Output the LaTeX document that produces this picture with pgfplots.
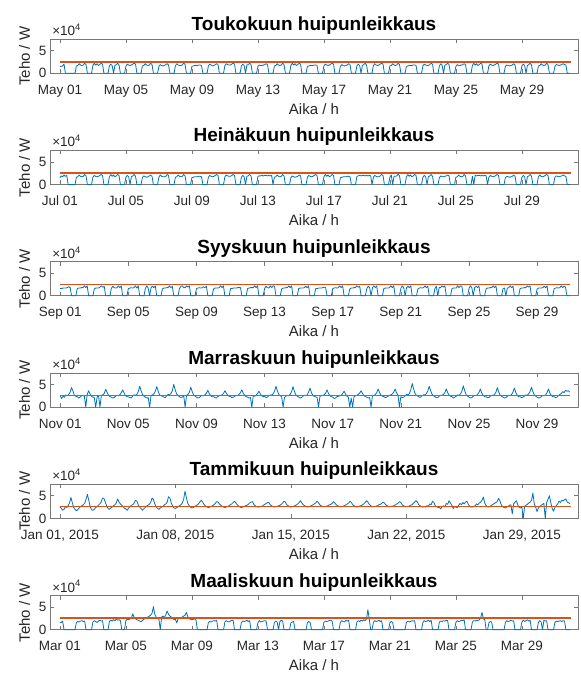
\documentclass[border=0pt]{standalone}
\usepackage{pgfplots}
\pgfplotsset{compat=1.18}
\usepackage{fontspec}
\setmainfont{Liberation Sans}
\definecolor{mblue}{RGB}{0,114,189}
\definecolor{morange}{RGB}{217,83,25}
\definecolor{axgray}{RGB}{120,120,120}
\definecolor{txt}{RGB}{38,38,38}
\pgfplotsset{
  msub/.style={
    scale only axis, width=528pt, height=34pt,
    ymin=0, ymax=7.5, ytick={0,5}, xmin=-0.6,
    clip=false,
    axis line style={axgray, line width=0.6pt},
    every tick/.style={axgray, line width=0.6pt},
    major tick length=4pt,
    tick label style={font=\fontsize{13.5}{16}\selectfont, text=txt},
    /pgf/number format/assume math mode=true,
    xticklabel style={anchor=base, yshift=-21pt},
    every axis title/.style={at={(axis description cs:0.5,1.25)}, anchor=base, font=\bfseries\fontsize{19}{22}\selectfont, text=black},
    every axis x label/.style={at={(axis description cs:0.5,-1.206)}, anchor=base, font=\fontsize{15}{18}\selectfont, text=txt},
    every axis y label/.style={at={(axis description cs:-0.0379,0.5)}, rotate=90, anchor=base, font=\fontsize{15}{18}\selectfont, text=txt},
    xlabel={Aika / h}, ylabel={Teho / W},
  },
  dat/.style={color=mblue, line width=0.8pt, line join=round},
  limline/.style={color=morange, line width=1.5pt},
}
\newcommand{\expo}{\node[anchor=base west, font=\fontsize{13.5}{16}\selectfont, text=txt, inner sep=0pt] at (axis description cs:0.004,1.103) {×10\textsuperscript{4}};}
\begin{document}
\begin{tikzpicture}
\useasboundingbox (0,0) rectangle (581pt,673pt);
% ---------------- May
\begin{axis}[msub, at={(50pt,599.8pt)}, anchor=south west, xmax=31.4,
  title={Toukokuun huipunleikkaus},
  xtick={0,4,8,12,16,20,24,28},
  xticklabels={May 01,May 05,May 09,May 13,May 17,May 21,May 25,May 29}]
\addplot[dat] table[row sep=\\, header=false, x expr=\coordindex/12, y index=0] {
1.5\\ 1.5\\ 1.6\\ 2.0\\ 0\\ 0\\ 0\\ 0\\ 0\\ 0\\ 0\\ 0\\
1.6\\ 1.7\\ 2.1\\ 1.8\\ 1.7\\ 1.8\\ 2.2\\ 1.9\\ 0\\ 0\\ 0\\ 0\\
1.7\\ 2.2\\ 1.8\\ 2.1\\ 1.7\\ 1.9\\ 2.2\\ 2.0\\ 0\\ 0\\ 0\\ 0\\
1.6\\ 2.0\\ 1.7\\ 0\\ 1.7\\ 1.9\\ 2.2\\ 1.8\\ 0\\ 0\\ 0\\ 0\\
1.5\\ 2.0\\ 1.8\\ 1.7\\ 1.8\\ 2.0\\ 2.2\\ 2.0\\ 0\\ 0\\ 0\\ 0\\
1.6\\ 1.7\\ 2.1\\ 1.8\\ 1.7\\ 1.8\\ 2.2\\ 1.9\\ 0\\ 0\\ 0\\ 0\\
1.5\\ 1.9\\ 1.7\\ 1.6\\ 1.7\\ 1.9\\ 2.1\\ 1.8\\ 0\\ 0\\ 0\\ 0\\
1.6\\ 2.1\\ 1.8\\ 1.7\\ 1.7\\ 1.8\\ 2.2\\ 2.0\\ 0\\ 0\\ 0\\ 0\\
1.5\\ 1.6\\ 1.7\\ 1.7\\ 1.7\\ 1.8\\ 1.8\\ 1.7\\ 0\\ 0\\ 0\\ 0\\
1.6\\ 2.0\\ 1.8\\ 1.6\\ 1.7\\ 1.9\\ 2.1\\ 1.9\\ 0\\ 0\\ 0\\ 0\\
1.7\\ 2.1\\ 1.9\\ 1.8\\ 1.8\\ 2.0\\ 2.2\\ 2.0\\ 0\\ 0\\ 0\\ 0\\
1.6\\ 2.0\\ 1.7\\ 0\\ 1.8\\ 1.9\\ 2.2\\ 1.9\\ 0\\ 0\\ 0\\ 0\\
1.5\\ 1.8\\ 1.7\\ 1.7\\ 1.8\\ 1.9\\ 2.1\\ 1.9\\ 0\\ 0\\ 0\\ 0\\
1.6\\ 1.7\\ 2.1\\ 1.8\\ 1.7\\ 1.8\\ 2.2\\ 1.9\\ 0\\ 0\\ 0\\ 0\\
1.7\\ 2.2\\ 1.8\\ 2.1\\ 1.7\\ 1.9\\ 2.2\\ 2.0\\ 0\\ 0\\ 0\\ 0\\
1.5\\ 1.6\\ 1.7\\ 1.7\\ 1.7\\ 1.8\\ 1.8\\ 1.7\\ 0\\ 0\\ 0\\ 0\\
1.6\\ 2.0\\ 1.8\\ 1.7\\ 1.8\\ 2.0\\ 2.2\\ 2.0\\ 0\\ 0\\ 0\\ 0\\
1.5\\ 1.9\\ 1.7\\ 1.6\\ 1.7\\ 1.8\\ 2.1\\ 1.9\\ 0\\ 0\\ 0\\ 0\\
1.6\\ 2.0\\ 1.7\\ 0\\ 1.7\\ 1.9\\ 2.2\\ 1.8\\ 0\\ 0\\ 0\\ 0\\
1.7\\ 2.1\\ 1.8\\ 1.7\\ 1.8\\ 2.0\\ 2.2\\ 2.0\\ 0\\ 0\\ 0\\ 0\\
1.6\\ 1.7\\ 2.1\\ 1.8\\ 1.7\\ 1.8\\ 2.2\\ 1.9\\ 0\\ 0\\ 0\\ 0\\
1.5\\ 1.6\\ 1.7\\ 1.7\\ 1.7\\ 1.8\\ 1.8\\ 1.7\\ 0\\ 0\\ 0\\ 0\\
1.6\\ 2.0\\ 1.8\\ 1.7\\ 1.7\\ 1.9\\ 2.2\\ 2.0\\ 0\\ 0\\ 0\\ 0\\
1.6\\ 2.1\\ 1.7\\ 0\\ 1.8\\ 1.9\\ 2.2\\ 1.9\\ 0\\ 0\\ 0\\ 0\\
1.5\\ 1.9\\ 1.7\\ 1.7\\ 1.8\\ 1.9\\ 2.1\\ 1.9\\ 0\\ 0\\ 0\\ 0\\
1.7\\ 2.2\\ 1.8\\ 2.1\\ 1.7\\ 1.9\\ 2.2\\ 2.0\\ 0\\ 0\\ 0\\ 0\\
1.6\\ 2.0\\ 1.8\\ 1.7\\ 1.8\\ 2.0\\ 2.2\\ 2.0\\ 0\\ 0\\ 0\\ 0\\
1.5\\ 1.8\\ 1.7\\ 1.6\\ 1.7\\ 1.8\\ 2.1\\ 1.8\\ 0\\ 0\\ 0\\ 0\\
1.6\\ 2.0\\ 1.7\\ 0\\ 1.7\\ 1.9\\ 2.2\\ 1.8\\ 0\\ 0\\ 0\\ 0\\
1.6\\ 1.7\\ 2.1\\ 1.8\\ 1.7\\ 1.8\\ 2.2\\ 1.9\\ 0\\ 0\\ 0\\ 0\\
1.5\\ 1.9\\ 1.8\\ 1.7\\ 1.8\\ 1.9\\ 2.1\\ 1.9\\ 1.8\\ 0\\ 0\\ 0\\
};
\addplot[limline] coordinates {(0,2.5) (30.95,2.5)};
\expo
\end{axis}
% ---------------- July
\begin{axis}[msub, at={(50pt,488.5pt)}, anchor=south west, xmax=31.4,
  title={Heinäkuun huipunleikkaus},
  xtick={0,4,8,12,16,20,24,28},
  xticklabels={Jul 01,Jul 05,Jul 09,Jul 13,Jul 17,Jul 21,Jul 25,Jul 29}]
\addplot[dat] table[row sep=\\, header=false, x expr=\coordindex/12, y index=0] {
1.5\\ 1.9\\ 1.7\\ 2.1\\ 1.8\\ 2.0\\ 0\\ 0\\ 0\\ 0\\ 0\\ 0\\
1.6\\ 1.7\\ 2.1\\ 1.8\\ 1.7\\ 1.8\\ 2.2\\ 1.9\\ 0\\ 0\\ 0\\ 0\\
1.6\\ 2.0\\ 1.8\\ 1.7\\ 1.8\\ 2.0\\ 2.2\\ 2.0\\ 0\\ 0\\ 0\\ 0\\
1.7\\ 2.2\\ 1.8\\ 2.1\\ 1.7\\ 1.9\\ 2.2\\ 2.0\\ 0\\ 0\\ 0\\ 0\\
1.6\\ 2.0\\ 1.7\\ 0\\ 1.7\\ 1.9\\ 2.2\\ 1.8\\ 0\\ 0\\ 0\\ 0\\
1.5\\ 1.9\\ 1.7\\ 1.6\\ 1.7\\ 1.9\\ 2.1\\ 1.8\\ 0\\ 0\\ 0\\ 0\\
1.6\\ 2.1\\ 1.8\\ 1.7\\ 1.7\\ 1.8\\ 2.2\\ 2.0\\ 0\\ 0\\ 0\\ 0\\
1.6\\ 1.7\\ 2.1\\ 1.8\\ 1.7\\ 1.8\\ 2.2\\ 1.9\\ 0\\ 0\\ 0\\ 0\\
1.5\\ 1.6\\ 1.7\\ 1.7\\ 1.7\\ 1.8\\ 1.8\\ 1.7\\ 0\\ 0\\ 0\\ 0\\
1.6\\ 2.0\\ 1.8\\ 1.7\\ 1.8\\ 2.0\\ 2.2\\ 2.0\\ 0\\ 0\\ 0\\ 0\\
1.7\\ 2.1\\ 1.9\\ 1.8\\ 1.8\\ 2.0\\ 2.2\\ 2.0\\ 0\\ 0\\ 0\\ 0\\
1.6\\ 2.0\\ 1.7\\ 0\\ 1.8\\ 1.9\\ 2.2\\ 1.9\\ 0\\ 0\\ 0\\ 0\\
1.8\\ 1.9\\ 1.9\\ 2.0\\ 1.9\\ 2.0\\ 2.0\\ 1.9\\ 2.0\\ 1.9\\ 2.0\\ 0\\
1.6\\ 1.7\\ 2.1\\ 1.8\\ 1.7\\ 1.8\\ 2.2\\ 1.9\\ 0\\ 0\\ 0\\ 0\\
1.5\\ 1.9\\ 1.7\\ 1.6\\ 1.7\\ 1.8\\ 2.1\\ 1.9\\ 0\\ 0\\ 0\\ 0\\
1.6\\ 2.0\\ 1.8\\ 1.7\\ 1.8\\ 2.0\\ 2.2\\ 2.0\\ 0\\ 0\\ 0\\ 0\\
1.7\\ 2.2\\ 1.8\\ 2.1\\ 1.7\\ 1.9\\ 2.2\\ 2.0\\ 0\\ 0\\ 0\\ 0\\
1.5\\ 1.6\\ 1.7\\ 1.7\\ 1.7\\ 1.8\\ 1.8\\ 1.7\\ 0\\ 0\\ 0\\ 0\\
1.8\\ 1.9\\ 2.0\\ 1.9\\ 2.0\\ 2.0\\ 1.9\\ 2.0\\ 1.9\\ 2.0\\ 1.9\\ 0\\
1.6\\ 2.0\\ 1.8\\ 1.7\\ 1.7\\ 1.9\\ 2.2\\ 2.0\\ 0\\ 0\\ 0\\ 0\\
1.6\\ 2.1\\ 0\\ 1.8\\ 1.8\\ 1.9\\ 2.3\\ 1.9\\ 0\\ 0\\ 0\\ 0\\
1.7\\ 2.2\\ 1.8\\ 2.1\\ 1.7\\ 1.9\\ 2.2\\ 2.0\\ 0\\ 0\\ 0\\ 0\\
1.6\\ 2.0\\ 1.7\\ 0\\ 1.7\\ 1.9\\ 2.2\\ 1.8\\ 0\\ 0\\ 0\\ 0\\
1.5\\ 1.9\\ 1.7\\ 1.7\\ 1.8\\ 1.9\\ 2.1\\ 1.9\\ 0\\ 0\\ 0\\ 0\\
1.6\\ 1.7\\ 2.1\\ 1.8\\ 1.7\\ 1.8\\ 2.2\\ 1.9\\ 0\\ 0\\ 0\\ 0\\
1.8\\ 0\\ 2.0\\ 1.9\\ 2.0\\ 2.0\\ 1.9\\ 2.0\\ 1.9\\ 2.0\\ 1.9\\ 0\\
1.6\\ 2.0\\ 1.8\\ 1.7\\ 1.8\\ 2.0\\ 2.2\\ 2.0\\ 0\\ 0\\ 0\\ 0\\
1.5\\ 1.8\\ 1.7\\ 1.6\\ 1.7\\ 1.8\\ 2.1\\ 1.8\\ 0\\ 0\\ 0\\ 0\\
1.6\\ 2.0\\ 1.7\\ 0\\ 1.7\\ 1.9\\ 2.2\\ 1.8\\ 0\\ 0\\ 0\\ 0\\
1.7\\ 2.1\\ 1.8\\ 1.7\\ 1.8\\ 2.0\\ 2.2\\ 2.0\\ 0\\ 0\\ 0\\ 0\\
1.6\\ 1.9\\ 1.8\\ 1.7\\ 1.8\\ 1.9\\ 2.1\\ 1.9\\ 1.8\\ 0\\ 0\\ 0\\
};
\addplot[limline] coordinates {(0,2.5) (30.95,2.5)};
\expo
\end{axis}
% ---------------- September
\begin{axis}[msub, at={(50pt,377.2pt)}, anchor=south west, xmax=30.4,
  title={Syyskuun huipunleikkaus},
  xtick={0,4,8,12,16,20,24,28},
  xticklabels={Sep 01,Sep 05,Sep 09,Sep 13,Sep 17,Sep 21,Sep 25,Sep 29}]
\addplot[dat] table[row sep=\\, header=false, x expr=\coordindex/12, y index=0] {
1.6\\ 1.6\\ 1.7\\ 1.7\\ 1.7\\ 1.8\\ 2.0\\ 1.8\\ 0\\ 0\\ 0\\ 0\\
1.6\\ 1.7\\ 1.7\\ 1.8\\ 1.8\\ 2.2\\ 1.8\\ 2.2\\ 0\\ 0\\ 0\\ 0\\
1.5\\ 1.7\\ 1.7\\ 1.7\\ 1.9\\ 2.2\\ 1.9\\ 2.1\\ 0\\ 0\\ 0\\ 0\\
1.6\\ 2.1\\ 1.8\\ 1.7\\ 1.8\\ 2.2\\ 1.8\\ 2.2\\ 0\\ 0\\ 0\\ 0\\
1.6\\ 1.7\\ 1.8\\ 1.7\\ 1.8\\ 2.2\\ 1.7\\ 2.2\\ 0\\ 0\\ 0\\ 0\\
1.6\\ 2.2\\ 1.7\\ 0\\ 1.8\\ 2.1\\ 1.8\\ 2.2\\ 0\\ 0\\ 0\\ 0\\
1.5\\ 1.7\\ 1.7\\ 1.8\\ 1.8\\ 2.2\\ 1.8\\ 2.1\\ 0\\ 0\\ 0\\ 0\\
1.6\\ 2.1\\ 2.2\\ 1.8\\ 1.8\\ 2.2\\ 1.9\\ 2.2\\ 0\\ 0\\ 0\\ 0\\
1.6\\ 1.7\\ 1.8\\ 1.7\\ 1.8\\ 2.0\\ 1.8\\ 2.1\\ 0\\ 0\\ 0\\ 0\\
1.5\\ 1.7\\ 1.7\\ 1.7\\ 1.8\\ 2.2\\ 1.8\\ 2.2\\ 0\\ 0\\ 0\\ 0\\
1.6\\ 1.6\\ 1.7\\ 1.7\\ 1.7\\ 1.8\\ 1.8\\ 1.8\\ 0\\ 0\\ 0\\ 0\\
1.6\\ 1.7\\ 1.8\\ 1.8\\ 1.8\\ 2.2\\ 1.8\\ 2.2\\ 0\\ 0\\ 0\\ 0\\
1.6\\ 2.1\\ 1.8\\ 1.7\\ 2.2\\ 1.8\\ 2.2\\ 2.1\\ 0\\ 0\\ 0\\ 0\\
1.5\\ 1.7\\ 1.7\\ 1.8\\ 1.8\\ 2.2\\ 1.8\\ 2.2\\ 0\\ 0\\ 0\\ 0\\
1.6\\ 1.7\\ 1.7\\ 1.7\\ 1.8\\ 2.1\\ 1.8\\ 2.2\\ 0\\ 0\\ 0\\ 0\\
1.6\\ 1.6\\ 1.7\\ 1.7\\ 1.7\\ 1.8\\ 1.9\\ 1.8\\ 0\\ 0\\ 0\\ 0\\
1.6\\ 1.7\\ 1.8\\ 1.7\\ 1.8\\ 2.2\\ 1.8\\ 2.2\\ 0\\ 0\\ 0\\ 0\\
1.5\\ 1.7\\ 1.7\\ 1.8\\ 1.8\\ 2.2\\ 1.9\\ 2.1\\ 0\\ 0\\ 0\\ 0\\
1.6\\ 2.1\\ 1.8\\ 0\\ 1.8\\ 2.2\\ 1.8\\ 2.2\\ 0\\ 0\\ 0\\ 0\\
1.6\\ 1.7\\ 1.7\\ 1.7\\ 1.8\\ 2.2\\ 1.8\\ 2.2\\ 0\\ 0\\ 0\\ 0\\
1.6\\ 2.2\\ 1.8\\ 0\\ 1.8\\ 2.1\\ 1.8\\ 2.2\\ 0\\ 0\\ 0\\ 0\\
1.5\\ 1.7\\ 1.8\\ 1.7\\ 1.8\\ 2.2\\ 1.8\\ 2.1\\ 0\\ 0\\ 0\\ 0\\
1.6\\ 2.1\\ 0\\ 1.8\\ 1.8\\ 2.2\\ 1.9\\ 2.2\\ 0\\ 0\\ 0\\ 0\\
1.6\\ 1.7\\ 1.7\\ 1.7\\ 2.2\\ 1.8\\ 2.2\\ 2.1\\ 0\\ 0\\ 0\\ 0\\
1.6\\ 2.2\\ 1.8\\ 0\\ 1.8\\ 2.1\\ 1.8\\ 2.2\\ 0\\ 0\\ 0\\ 0\\
1.5\\ 1.7\\ 1.7\\ 1.8\\ 1.8\\ 2.2\\ 1.8\\ 2.2\\ 0\\ 0\\ 0\\ 0\\
1.6\\ 1.7\\ 0\\ 1.7\\ 1.8\\ 2.2\\ 1.8\\ 2.1\\ 0\\ 0\\ 0\\ 0\\
1.6\\ 1.7\\ 1.7\\ 1.8\\ 1.8\\ 2.2\\ 1.9\\ 2.2\\ 0\\ 0\\ 0\\ 0\\
1.5\\ 1.7\\ 1.7\\ 1.7\\ 1.8\\ 2.1\\ 1.8\\ 2.2\\ 0\\ 0\\ 0\\ 0\\
1.6\\ 1.7\\ 1.8\\ 1.7\\ 1.8\\ 2.2\\ 1.8\\ 2.1\\ 1.9\\ 0\\ 0\\ 0\\
};
\addplot[limline] coordinates {(0,2.5) (29.95,2.5)};
\expo
\end{axis}
% ---------------- November
\begin{axis}[msub, at={(50pt,265.9pt)}, anchor=south west, xmax=30.4,
  title={Marraskuun huipunleikkaus},
  xtick={0,4,8,12,16,20,24,28},
  xticklabels={Nov 01,Nov 05,Nov 09,Nov 13,Nov 17,Nov 21,Nov 25,Nov 29}]
\addplot[dat] table[row sep=\\, header=false, x expr=\coordindex/12, y index=0] {
2.5\\ 1.9\\ 2.4\\ 2.2\\ 2.7\\ 2.5\\ 2.8\\ 3.3\\ 4.3\\ 3.5\\ 2.6\\ 2.4\\
2.3\\ 2.0\\ 2.2\\ 2.5\\ 2.6\\ 2.4\\ 0\\ 2.8\\ 3.6\\ 2.9\\ 2.4\\ 2.2\\
2.1\\ 0\\ 2.2\\ 2.5\\ 0\\ 2.6\\ 2.7\\ 3.0\\ 3.9\\ 3.3\\ 2.6\\ 2.3\\
2.2\\ 2.0\\ 2.1\\ 2.4\\ 2.6\\ 2.5\\ 2.7\\ 3.2\\ 3.8\\ 3.1\\ 2.5\\ 2.3\\
2.3\\ 2.1\\ 2.0\\ 2.4\\ 2.7\\ 2.6\\ 2.8\\ 3.4\\ 4.6\\ 3.6\\ 2.8\\ 2.4\\
2.2\\ 2.0\\ 2.1\\ 0\\ 2.6\\ 2.7\\ 2.9\\ 3.5\\ 4.5\\ 3.5\\ 2.7\\ 2.5\\
2.4\\ 2.2\\ 2.1\\ 2.5\\ 2.8\\ 2.7\\ 3.0\\ 3.6\\ 5.0\\ 3.8\\ 2.9\\ 2.6\\
2.3\\ 2.1\\ 2.2\\ 2.5\\ 0\\ 2.6\\ 2.8\\ 3.3\\ 4.4\\ 3.4\\ 2.7\\ 2.4\\
2.2\\ 2.0\\ 2.1\\ 2.4\\ 2.6\\ 2.5\\ 2.7\\ 3.1\\ 3.7\\ 3.0\\ 2.5\\ 2.3\\
2.3\\ 2.1\\ 2.0\\ 2.3\\ 2.5\\ 2.6\\ 2.7\\ 3.0\\ 3.6\\ 3.1\\ 2.6\\ 2.4\\
2.3\\ 2.1\\ 2.2\\ 2.4\\ 2.6\\ 2.5\\ 2.8\\ 3.2\\ 3.8\\ 3.0\\ 2.6\\ 2.3\\
2.2\\ 2.0\\ 2.1\\ 0\\ 2.5\\ 2.4\\ 2.6\\ 3.0\\ 3.5\\ 2.9\\ 2.5\\ 2.3\\
2.4\\ 2.1\\ 2.2\\ 2.5\\ 2.7\\ 2.6\\ 2.9\\ 3.5\\ 4.6\\ 3.6\\ 2.8\\ 2.5\\
2.3\\ 0\\ 2.1\\ 2.4\\ 2.6\\ 2.5\\ 2.8\\ 3.4\\ 4.5\\ 3.5\\ 2.7\\ 2.4\\
2.2\\ 2.0\\ 2.1\\ 2.4\\ 2.6\\ 2.5\\ 2.7\\ 3.3\\ 4.2\\ 3.2\\ 2.6\\ 2.3\\
2.3\\ 2.1\\ 0\\ 2.4\\ 2.5\\ 2.6\\ 2.7\\ 3.1\\ 3.8\\ 3.0\\ 2.5\\ 2.3\\
2.2\\ 1.9\\ 2.0\\ 2.3\\ 2.4\\ 2.5\\ 2.6\\ 3.0\\ 3.5\\ 2.9\\ 2.4\\ 2.2\\
0\\ 2.0\\ 0\\ 2.3\\ 2.5\\ 2.6\\ 2.8\\ 3.1\\ 3.6\\ 3.0\\ 2.5\\ 2.3\\
2.2\\ 2.0\\ 2.1\\ 0\\ 2.6\\ 2.5\\ 2.8\\ 3.2\\ 4.0\\ 3.2\\ 2.6\\ 2.4\\
2.3\\ 2.1\\ 2.2\\ 2.4\\ 2.6\\ 2.7\\ 2.9\\ 3.3\\ 4.0\\ 3.1\\ 2.6\\ 0\\
2.3\\ 2.1\\ 2.2\\ 2.5\\ 2.8\\ 2.7\\ 3.0\\ 3.8\\ 5.2\\ 4.0\\ 3.0\\ 2.6\\
2.4\\ 2.2\\ 2.2\\ 2.5\\ 2.7\\ 2.7\\ 3.0\\ 3.6\\ 4.6\\ 3.6\\ 2.8\\ 2.5\\
2.3\\ 2.1\\ 2.1\\ 2.4\\ 2.6\\ 2.6\\ 2.8\\ 3.2\\ 4.0\\ 3.2\\ 2.6\\ 2.4\\
2.3\\ 2.0\\ 2.2\\ 2.4\\ 2.7\\ 2.6\\ 2.9\\ 3.5\\ 4.7\\ 3.6\\ 2.7\\ 2.4\\
2.2\\ 2.0\\ 2.1\\ 2.4\\ 2.6\\ 2.5\\ 2.8\\ 3.2\\ 4.0\\ 3.1\\ 2.6\\ 2.3\\
2.3\\ 2.1\\ 2.1\\ 2.4\\ 2.6\\ 2.6\\ 2.8\\ 3.3\\ 4.3\\ 3.3\\ 2.6\\ 2.4\\
2.2\\ 2.0\\ 2.1\\ 2.4\\ 2.6\\ 2.5\\ 2.8\\ 3.3\\ 4.2\\ 3.2\\ 2.6\\ 2.3\\
2.3\\ 2.1\\ 2.2\\ 2.4\\ 2.7\\ 2.6\\ 2.9\\ 3.4\\ 4.4\\ 3.4\\ 2.7\\ 2.4\\
2.2\\ 2.0\\ 2.1\\ 2.3\\ 2.6\\ 2.5\\ 2.7\\ 3.2\\ 4.0\\ 3.1\\ 2.6\\ 2.3\\
2.3\\ 2.1\\ 2.2\\ 2.5\\ 2.8\\ 3.0\\ 3.4\\ 3.2\\ 3.7\\ 3.5\\ 3.6\\ 3.3\\
};
\addplot[limline] coordinates {(0,2.6) (29.95,2.6)};
\expo
\end{axis}
% ---------------- January
\begin{axis}[msub, at={(50pt,154.6pt)}, anchor=south west, xmax=31.4,
  title={Tammikuun huipunleikkaus},
  xtick={0,7,14,21,28},
  xticklabels={{Jan 01, 2015},{Jan 08, 2015},{Jan 15, 2015},{Jan 22, 2015},{Jan 29, 2015}}]
\addplot[dat] table[row sep=\\, header=false, x expr=\coordindex/12, y index=0] {
2.6\\ 2.2\\ 1.8\\ 2.0\\ 2.6\\ 2.4\\ 2.8\\ 3.4\\ 4.6\\ 3.5\\ 2.4\\ 2.0\\
1.7\\ 1.9\\ 2.3\\ 2.6\\ 2.8\\ 3.0\\ 3.3\\ 4.2\\ 5.3\\ 4.0\\ 2.6\\ 1.9\\
1.8\\ 2.0\\ 2.4\\ 2.6\\ 2.9\\ 3.2\\ 3.6\\ 4.5\\ 4.4\\ 3.6\\ 2.8\\ 2.2\\
2.0\\ 2.3\\ 2.5\\ 2.8\\ 3.0\\ 3.4\\ 4.3\\ 3.6\\ 3.2\\ 2.9\\ 2.6\\ 2.2\\
2.1\\ 1.8\\ 2.3\\ 2.6\\ 2.9\\ 3.0\\ 3.4\\ 4.0\\ 3.8\\ 3.0\\ 2.5\\ 2.2\\
1.8\\ 2.1\\ 2.4\\ 2.7\\ 2.9\\ 3.1\\ 3.5\\ 4.5\\ 4.2\\ 3.2\\ 2.6\\ 2.2\\
2.0\\ 2.3\\ 2.5\\ 2.7\\ 3.0\\ 3.2\\ 3.6\\ 4.8\\ 4.5\\ 3.4\\ 2.7\\ 2.3\\
2.2\\ 2.4\\ 2.6\\ 2.8\\ 3.0\\ 3.4\\ 4.2\\ 6.0\\ 4.6\\ 3.3\\ 2.8\\ 2.5\\
2.3\\ 2.4\\ 2.6\\ 2.8\\ 3.0\\ 3.3\\ 3.7\\ 4.0\\ 3.5\\ 3.0\\ 2.7\\ 2.5\\
2.4\\ 2.5\\ 2.6\\ 2.8\\ 3.0\\ 3.3\\ 3.7\\ 3.6\\ 3.2\\ 2.9\\ 2.7\\ 2.5\\
2.4\\ 2.5\\ 2.6\\ 2.8\\ 3.0\\ 3.2\\ 3.5\\ 3.8\\ 3.4\\ 3.0\\ 2.7\\ 2.5\\
2.4\\ 2.5\\ 2.6\\ 2.8\\ 2.9\\ 3.1\\ 3.4\\ 3.6\\ 3.7\\ 3.1\\ 2.8\\ 2.6\\
2.5\\ 2.5\\ 2.6\\ 2.7\\ 2.9\\ 3.1\\ 3.3\\ 3.5\\ 3.5\\ 3.0\\ 2.8\\ 2.6\\
2.5\\ 2.6\\ 2.6\\ 2.8\\ 2.9\\ 3.1\\ 3.4\\ 3.8\\ 3.6\\ 3.0\\ 2.8\\ 2.6\\
2.5\\ 2.6\\ 2.7\\ 2.8\\ 3.0\\ 3.2\\ 3.5\\ 3.9\\ 3.4\\ 3.0\\ 2.8\\ 2.6\\
2.5\\ 2.6\\ 2.7\\ 2.8\\ 3.0\\ 3.2\\ 3.4\\ 3.8\\ 3.5\\ 3.0\\ 2.8\\ 2.6\\
2.6\\ 2.6\\ 2.7\\ 2.8\\ 3.0\\ 3.1\\ 3.3\\ 3.7\\ 3.4\\ 3.0\\ 2.8\\ 2.6\\
2.6\\ 2.6\\ 2.7\\ 2.8\\ 3.0\\ 3.2\\ 3.4\\ 3.8\\ 3.5\\ 3.0\\ 2.8\\ 2.6\\
2.5\\ 2.6\\ 2.7\\ 2.8\\ 3.0\\ 3.2\\ 3.5\\ 3.9\\ 3.6\\ 3.1\\ 2.8\\ 2.6\\
2.6\\ 2.6\\ 2.7\\ 2.8\\ 3.0\\ 3.1\\ 3.3\\ 3.6\\ 3.4\\ 3.0\\ 2.8\\ 2.6\\
2.6\\ 2.7\\ 2.7\\ 2.8\\ 3.0\\ 3.2\\ 3.4\\ 3.7\\ 3.5\\ 3.0\\ 2.8\\ 2.6\\
2.6\\ 2.7\\ 2.7\\ 2.9\\ 3.0\\ 3.3\\ 3.6\\ 3.9\\ 3.6\\ 3.0\\ 2.8\\ 2.6\\
2.5\\ 2.6\\ 2.5\\ 2.8\\ 2.7\\ 3.2\\ 3.0\\ 3.8\\ 3.5\\ 2.8\\ 2.6\\ 2.4\\
2.4\\ 2.1\\ 2.6\\ 2.8\\ 2.5\\ 3.3\\ 3.1\\ 3.9\\ 3.4\\ 2.9\\ 2.2\\ 2.6\\
2.5\\ 2.4\\ 2.9\\ 3.3\\ 3.0\\ 3.5\\ 3.2\\ 3.6\\ 3.8\\ 3.1\\ 2.7\\ 2.5\\
2.5\\ 2.6\\ 2.8\\ 3.2\\ 3.0\\ 3.4\\ 3.6\\ 4.0\\ 4.7\\ 3.4\\ 2.8\\ 2.6\\
2.5\\ 2.7\\ 2.9\\ 3.1\\ 3.3\\ 3.5\\ 3.7\\ 4.4\\ 3.9\\ 3.0\\ 2.6\\ 2.4\\
2.3\\ 2.5\\ 2.6\\ 2.9\\ 3.0\\ 1.0\\ 3.2\\ 3.6\\ 3.9\\ 3.0\\ 2.4\\ 2.3\\
2.5\\ 0\\ 2.7\\ 2.9\\ 3.1\\ 3.4\\ 3.6\\ 4.0\\ 5.6\\ 3.2\\ 2.5\\ 1.5\\
2.3\\ 2.6\\ 2.9\\ 3.1\\ 3.3\\ 0\\ 3.5\\ 4.2\\ 5.0\\ 3.5\\ 2.2\\ 1.6\\
2.4\\ 2.8\\ 3.2\\ 3.8\\ 3.5\\ 4.0\\ 3.9\\ 4.1\\ 4.3\\ 3.6\\ 3.4\\ 3.3\\
};
\addplot[limline] coordinates {(0,2.65) (30.95,2.65)};
\expo
\end{axis}
% ---------------- March
\begin{axis}[msub, at={(50pt,43.3pt)}, anchor=south west, xmax=31.4,
  title={Maaliskuun huipunleikkaus},
  xtick={0,4,8,12,16,20,24,28},
  xticklabels={Mar 01,Mar 05,Mar 09,Mar 13,Mar 17,Mar 21,Mar 25,Mar 29}]
\addplot[dat] table[row sep=\\, header=false, x expr=\coordindex/12, y index=0] {
1.5\\ 1.6\\ 1.9\\ 0\\ 0\\ 0\\ 0\\ 0\\ 0\\ 0\\ 0\\ 0\\
1.6\\ 1.8\\ 1.7\\ 1.9\\ 2.0\\ 1.8\\ 1.9\\ 0\\ 0\\ 0\\ 0\\ 0\\
1.7\\ 2.0\\ 1.8\\ 1.6\\ 1.9\\ 2.1\\ 1.9\\ 2.0\\ 0\\ 0\\ 0\\ 0\\
1.8\\ 2.1\\ 1.9\\ 2.2\\ 2.0\\ 2.3\\ 2.1\\ 2.2\\ 2.0\\ 0\\ 0\\ 0\\
2.0\\ 2.3\\ 2.2\\ 2.4\\ 2.6\\ 3.5\\ 2.6\\ 2.4\\ 2.2\\ 2.1\\ 1.9\\ 1.8\\
2.0\\ 2.3\\ 2.5\\ 2.6\\ 2.8\\ 3.0\\ 3.2\\ 3.6\\ 5.1\\ 3.4\\ 2.8\\ 2.5\\
2.3\\ 0\\ 2.8\\ 3.0\\ 2.7\\ 3.3\\ 4.1\\ 3.4\\ 3.0\\ 2.8\\ 2.6\\ 2.2\\
2.3\\ 1.5\\ 2.4\\ 2.6\\ 2.5\\ 2.8\\ 3.0\\ 3.2\\ 3.8\\ 2.9\\ 2.4\\ 2.3\\
2.2\\ 2.3\\ 2.4\\ 2.1\\ 0\\ 0\\ 0\\ 0\\ 0\\ 0\\ 0\\ 0\\
1.6\\ 1.8\\ 1.7\\ 1.9\\ 2.0\\ 1.9\\ 2.1\\ 0\\ 0\\ 0\\ 0\\ 0\\
1.7\\ 2.0\\ 1.8\\ 1.7\\ 1.9\\ 2.1\\ 2.0\\ 0\\ 0\\ 0\\ 0\\ 0\\
1.6\\ 1.9\\ 1.8\\ 1.9\\ 2.1\\ 1.8\\ 2.0\\ 0\\ 0\\ 0\\ 0\\ 0\\
1.5\\ 2.0\\ 1.7\\ 1.8\\ 1.9\\ 2.0\\ 1.9\\ 0\\ 0\\ 0\\ 0\\ 0\\
1.6\\ 1.9\\ 1.7\\ 0\\ 1.8\\ 2.1\\ 1.9\\ 0\\ 0\\ 0\\ 0\\ 0\\
1.5\\ 1.7\\ 1.8\\ 0\\ 0\\ 0\\ 0\\ 0\\ 0\\ 0\\ 0\\ 0\\
1.5\\ 1.8\\ 1.6\\ 0\\ 0\\ 0\\ 0\\ 0\\ 0\\ 0\\ 0\\ 0\\
1.6\\ 1.9\\ 1.8\\ 1.9\\ 2.0\\ 2.1\\ 1.9\\ 0\\ 0\\ 0\\ 0\\ 0\\
1.6\\ 2.0\\ 1.8\\ 1.7\\ 2.1\\ 1.9\\ 2.1\\ 0\\ 0\\ 0\\ 0\\ 0\\
1.7\\ 2.0\\ 1.8\\ 2.1\\ 1.9\\ 2.2\\ 2.0\\ 2.4\\ 4.4\\ 2.3\\ 0\\ 0\\
1.6\\ 2.0\\ 1.8\\ 1.9\\ 2.1\\ 1.8\\ 2.0\\ 0\\ 0\\ 0\\ 0\\ 0\\
1.5\\ 1.8\\ 1.6\\ 0\\ 0\\ 0\\ 0\\ 0\\ 0\\ 0\\ 0\\ 0\\
1.6\\ 1.9\\ 1.7\\ 1.8\\ 2.0\\ 1.9\\ 2.0\\ 0\\ 0\\ 0\\ 0\\ 0\\
1.6\\ 2.0\\ 1.8\\ 1.9\\ 2.1\\ 1.8\\ 2.1\\ 0\\ 0\\ 0\\ 0\\ 0\\
1.7\\ 1.9\\ 1.8\\ 2.0\\ 1.9\\ 2.1\\ 2.0\\ 0\\ 0\\ 0\\ 0\\ 0\\
1.6\\ 2.0\\ 1.8\\ 1.9\\ 2.1\\ 2.0\\ 2.2\\ 0\\ 0\\ 0\\ 0\\ 0\\
1.7\\ 2.0\\ 1.9\\ 2.1\\ 2.0\\ 2.2\\ 2.6\\ 3.8\\ 2.4\\ 2.2\\ 0\\ 0\\
1.5\\ 1.8\\ 1.7\\ 0\\ 0\\ 0\\ 0\\ 0\\ 0\\ 0\\ 0\\ 0\\
1.6\\ 2.0\\ 1.8\\ 1.9\\ 2.1\\ 1.9\\ 2.0\\ 0\\ 0\\ 0\\ 0\\ 0\\
1.7\\ 2.1\\ 1.8\\ 2.0\\ 2.2\\ 1.9\\ 2.1\\ 0\\ 0\\ 0\\ 0\\ 0\\
1.6\\ 2.0\\ 1.7\\ 0\\ 2.1\\ 1.9\\ 2.0\\ 0\\ 0\\ 0\\ 0\\ 0\\
1.6\\ 1.9\\ 1.8\\ 1.9\\ 2.0\\ 1.8\\ 2.0\\ 1.9\\ 0\\ 0\\ 0\\ 0\\
};
\addplot[limline] coordinates {(0,2.6) (30.95,2.6)};
\expo
\end{axis}
\end{tikzpicture}
\end{document}
